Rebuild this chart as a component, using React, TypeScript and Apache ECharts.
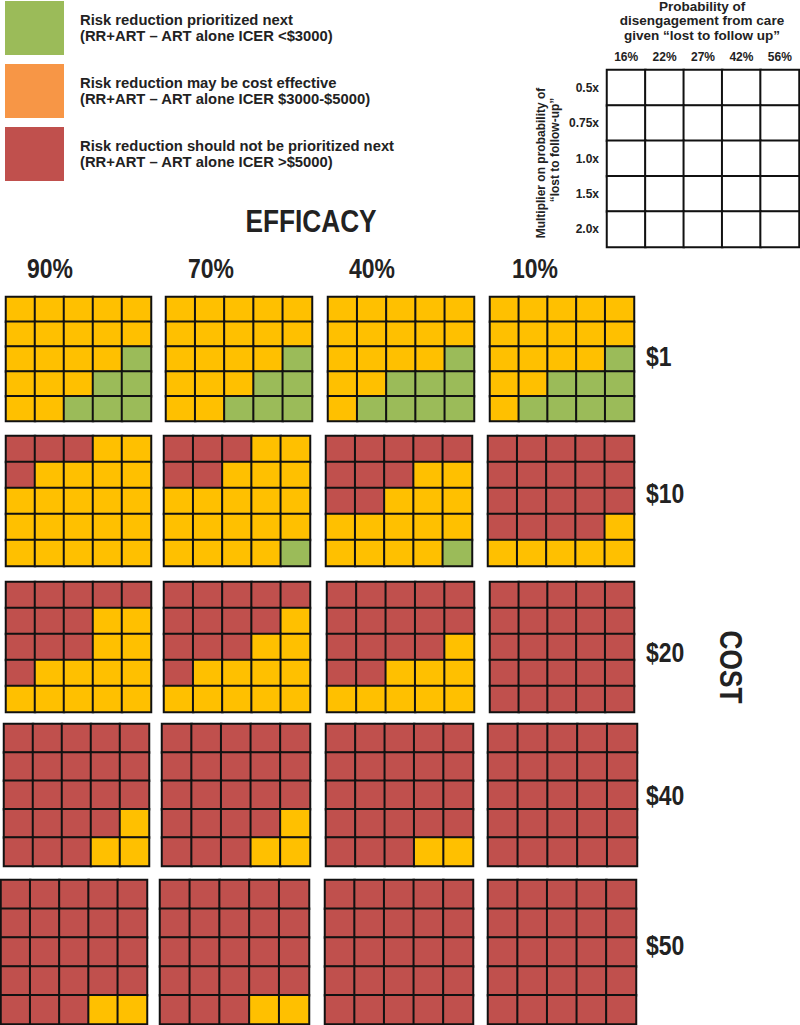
import React, { useEffect, useRef } from "react";
import * as echarts from "echarts";

// ---- data ----
const efficacyLabels = ["90%", "70%", "40%", "10%"];
const costLabels = ["$1", "$10", "$20", "$40", "$50"];
const probLabels = ["16%", "22%", "27%", "42%", "56%"];
const multLabels = ["0.5x", "0.75x", "1.0x", "1.5x", "2.0x"];
// 0 = ICER <$3000 (green), 1 = $3000-$5000 (yellow), 2 = >$5000 (red)
// each panel: rows = multiplier (0.5x..2.0x), cols = probability (16%..56%)
const cost1 = [
  [[1,1,1,1,1],[1,1,1,1,1],[1,1,1,1,0],[1,1,1,0,0],[1,1,0,0,0]],
  [[1,1,1,1,1],[1,1,1,1,1],[1,1,1,1,0],[1,1,1,0,0],[1,1,0,0,0]],
  [[1,1,1,1,1],[1,1,1,1,1],[1,1,1,1,0],[1,1,0,0,0],[1,0,0,0,0]],
  [[1,1,1,1,1],[1,1,1,1,1],[1,1,1,1,0],[1,1,0,0,0],[1,0,0,0,0]],
];
const cost10 = [
  [[2,2,2,1,1],[2,1,1,1,1],[1,1,1,1,1],[1,1,1,1,1],[1,1,1,1,1]],
  [[2,2,2,1,1],[2,2,1,1,1],[1,1,1,1,1],[1,1,1,1,1],[1,1,1,1,0]],
  [[2,2,2,2,2],[2,2,2,1,1],[2,2,1,1,1],[1,1,1,1,1],[1,1,1,1,0]],
  [[2,2,2,2,2],[2,2,2,2,2],[2,2,2,2,2],[2,2,2,2,1],[1,1,1,1,1]],
];
const cost20 = [
  [[2,2,2,2,2],[2,2,2,1,1],[2,2,2,1,1],[2,1,1,1,1],[1,1,1,1,1]],
  [[2,2,2,2,2],[2,2,2,2,1],[2,2,2,1,1],[2,1,1,1,1],[1,1,1,1,1]],
  [[2,2,2,2,2],[2,2,2,2,2],[2,2,2,2,1],[2,2,1,1,1],[1,1,1,1,1]],
  [[2,2,2,2,2],[2,2,2,2,2],[2,2,2,2,2],[2,2,2,2,2],[2,2,2,2,2]],
];
const cost40 = [
  [[2,2,2,2,2],[2,2,2,2,2],[2,2,2,2,2],[2,2,2,2,1],[2,2,2,1,1]],
  [[2,2,2,2,2],[2,2,2,2,2],[2,2,2,2,2],[2,2,2,2,1],[2,2,2,1,1]],
  [[2,2,2,2,2],[2,2,2,2,2],[2,2,2,2,2],[2,2,2,2,2],[2,2,2,1,1]],
  [[2,2,2,2,2],[2,2,2,2,2],[2,2,2,2,2],[2,2,2,2,2],[2,2,2,2,2]],
];
const cost50 = [
  [[2,2,2,2,2],[2,2,2,2,2],[2,2,2,2,2],[2,2,2,2,2],[2,2,2,1,1]],
  [[2,2,2,2,2],[2,2,2,2,2],[2,2,2,2,2],[2,2,2,2,2],[2,2,2,1,1]],
  [[2,2,2,2,2],[2,2,2,2,2],[2,2,2,2,2],[2,2,2,2,2],[2,2,2,2,2]],
  [[2,2,2,2,2],[2,2,2,2,2],[2,2,2,2,2],[2,2,2,2,2],[2,2,2,2,2]],
];
const panelsByCost = [cost1, cost10, cost20, cost40, cost50];
const legendItems = [
  { line1: "Risk reduction prioritized next", line2: "(RR+ART \u2013 ART alone ICER <$3000)" },
  { line1: "Risk reduction may be cost effective", line2: "(RR+ART \u2013 ART alone ICER $3000-$5000)" },
  { line1: "Risk reduction should not be prioritized next", line2: "(RR+ART \u2013 ART alone ICER >$5000)" },
];

// ---- layout / style ----
const C_GREEN = "#9BBB59";
const C_YELLOW = "#FFC000";
const C_RED = "#C0504D";
const LEG_COLORS = ["#9BBB59", "#F79646", "#C0504D"];
const ARIAL = "'Liberation Sans', Arial, sans-serif";
const NARROW_SCALE = 0.82;

const rowBoxes = [
  { top: 297, height: 124, cols: [[6, 145], [166, 146], [328, 146], [490, 144]] },
  { top: 436, height: 130, cols: [[6, 145], [164, 146], [326, 146], [488, 146]] },
  { top: 582, height: 130, cols: [[6, 145], [164, 146], [327, 147], [490, 144]] },
  { top: 724, height: 142, cols: [[4, 145], [162, 148], [326, 147], [488, 149]] },
  { top: 880, height: 144, cols: [[1, 146], [160, 149], [325, 148], [488, 148]] },
];

export default function App() {
  const ref = useRef<HTMLDivElement>(null);
  useEffect(() => {
    if (!ref.current) return;
    const chart = echarts.init(ref.current, undefined, { renderer: "svg" });
    const grids: any[] = [];
    const xAxes: any[] = [];
    const yAxes: any[] = [];
    const series: any[] = [];

    const addPanel = (
      box: { left: number; top: number; width: number; height: number },
      matrix: number[][] | null,
      showLabels: boolean
    ) => {
      const idx = grids.length;
      grids.push({ left: box.left, top: box.top, width: box.width, height: box.height, containLabel: false });
      xAxes.push({
        type: "category",
        gridIndex: idx,
        data: probLabels,
        position: "top",
        show: showLabels,
        axisLine: { show: false },
        axisTick: { show: false },
        splitLine: { show: false },
        axisLabel: { show: showLabels, margin: 7, fontSize: 12, fontWeight: "bold", color: "#222", fontFamily: ARIAL },
      });
      yAxes.push({
        type: "category",
        gridIndex: idx,
        data: multLabels,
        inverse: true,
        show: showLabels,
        axisLine: { show: false },
        axisTick: { show: false },
        splitLine: { show: false },
        axisLabel: { show: showLabels, margin: 8, fontSize: 12, fontWeight: "bold", color: "#222", fontFamily: ARIAL },
      });
      const data: number[][] = [];
      for (let r = 0; r < 5; r++)
        for (let c = 0; c < 5; c++) data.push([c, r, matrix ? matrix[r][c] : 3]);
      series.push({
        type: "heatmap",
        xAxisIndex: idx,
        yAxisIndex: idx,
        data,
        itemStyle: { borderColor: "#111", borderWidth: 2 },
        emphasis: { disabled: true },
        silent: true,
      });
    };

    panelsByCost.forEach((panels, ri) => {
      const rb = rowBoxes[ri];
      panels.forEach((m, ci) => {
        addPanel({ left: rb.cols[ci][0], top: rb.top, width: rb.cols[ci][1], height: rb.height }, m, false);
      });
    });
    // key grid
    addPanel({ left: 607, top: 70, width: 192, height: 177 }, null, true);

    const graphic: any[] = [];
    legendItems.forEach((it, i) => {
      const y0 = [1, 64, 127][i];
      graphic.push({ type: "rect", shape: { x: 5, y: y0, width: 59, height: 54 }, style: { fill: LEG_COLORS[i] } });
      graphic.push({ type: "text", x: 80, y: y0 + 19, style: { text: it.line1, font: `bold 14.8px ${ARIAL}`, fill: "#222", verticalAlign: "middle" } });
      graphic.push({ type: "text", x: 80, y: y0 + 35, style: { text: it.line2, font: `bold 14.8px ${ARIAL}`, fill: "#222", verticalAlign: "middle" } });
    });
    ["Probability of", "disengagement from care", "given \u201clost to follow up\u201d"].forEach((t, i) => {
      graphic.push({ type: "text", x: 702, y: 6 + i * 14.5, style: { text: t, font: `bold 13.5px ${ARIAL}`, fill: "#222", align: "center", verticalAlign: "middle" } });
    });
    graphic.push({ type: "text", x: 541, y: 163, rotation: Math.PI / 2, style: { text: "Multiplier on probability of", font: `bold 12px ${ARIAL}`, fill: "#222", align: "center", verticalAlign: "middle" } });
    graphic.push({ type: "text", x: 555, y: 150, rotation: Math.PI / 2, style: { text: "\u201clost to follow-up\u201d", font: `bold 12px ${ARIAL}`, fill: "#222", align: "center", verticalAlign: "middle" } });
    graphic.push({ type: "text", x: 311, y: 221, scaleX: NARROW_SCALE, style: { text: "EFFICACY", font: `bold 32px ${ARIAL}`, fill: "#222", align: "center", verticalAlign: "middle" } });
    const effX = [50, 211, 372, 535];
    efficacyLabels.forEach((t, i) => {
      graphic.push({ type: "text", x: effX[i], y: 268, scaleX: NARROW_SCALE, style: { text: t, font: `bold 28px ${ARIAL}`, fill: "#222", align: "center", verticalAlign: "middle" } });
    });
    const costY = [356, 493, 652, 795, 945];
    costLabels.forEach((t, i) => {
      graphic.push({ type: "text", x: 646, y: costY[i], scaleX: NARROW_SCALE, style: { text: t, font: `bold 28px ${ARIAL}`, fill: "#222", align: "left", verticalAlign: "middle" } });
    });
    graphic.push({ type: "text", x: 731, y: 667, rotation: -Math.PI / 2, scaleX: NARROW_SCALE, style: { text: "COST", font: `bold 32px ${ARIAL}`, fill: "#222", align: "center", verticalAlign: "middle" } });

    chart.setOption({
      animation: false,
      backgroundColor: "#fff",
      grid: grids,
      xAxis: xAxes,
      yAxis: yAxes,
      visualMap: {
        type: "piecewise",
        show: false,
        dimension: 2,
        pieces: [
          { value: 0, color: C_GREEN },
          { value: 1, color: C_YELLOW },
          { value: 2, color: C_RED },
          { value: 3, color: "#ffffff" },
        ],
      },
      series,
      graphic,
    });
    return () => chart.dispose();
  }, []);
  return <div ref={ref} style={{ position: "absolute", left: 0, top: 0, width: 800, height: 1025 }} />;
}
